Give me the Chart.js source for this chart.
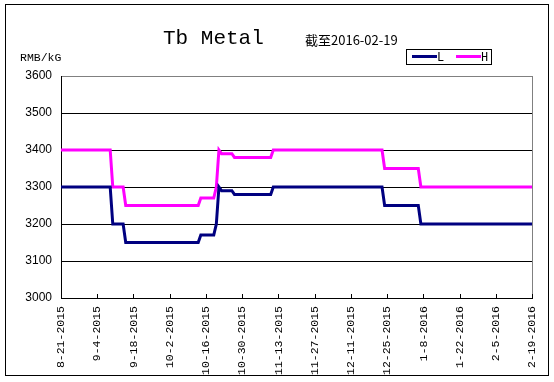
<!DOCTYPE html>
<html>
<head>
<meta charset="utf-8">
<script src="https://cdn.jsdelivr.net/npm/chart.js@4/dist/chart.umd.min.js"></script>
<style>
  html, body { margin: 0; padding: 0; background: #fff; }
  #wrap { width: 554px; height: 382px; }
</style>
</head>
<body>
<div id="wrap"><canvas id="tbChart" width="554" height="382"></canvas></div>
<script>
// tick labels, one every 14 days from 8-21-2015
const dateLabels = ['8-21-2015', '9-4-2015', '9-18-2015', '10-2-2015', '10-16-2015', '10-30-2015',
  '11-13-2015', '11-27-2015', '12-11-2015', '12-25-2015', '1-8-2016', '1-22-2016', '2-5-2016', '2-19-2016'];

// days since 8-21-2015 where the price changes (both sides of each step)
const dayOffsets = [0, 19, 20, 24, 25, 53, 54, 59, 60, 61, 62, 66, 67, 81, 82, 124, 125, 138, 139, 182];
const lowValues  = [3300, 3300, 3200, 3200, 3150, 3150, 3170, 3170, 3200, 3300, 3290, 3290, 3280, 3280, 3300, 3300, 3250, 3250, 3200, 3200];
const highValues = [3400, 3400, 3300, 3300, 3250, 3250, 3270, 3270, 3300, 3400, 3390, 3390, 3380, 3380, 3400, 3400, 3350, 3350, 3300, 3300];

const yTicks = [3000, 3100, 3200, 3300, 3400, 3500, 3600];

const lowColor = '#000080';
const highColor = '#ff00ff';

const decorations = {
  id: 'decorations',
  beforeDraw(chart) {
    const ctx = chart.ctx;
    ctx.save();
    ctx.fillStyle = '#fff';
    ctx.fillRect(0, 0, chart.width, chart.height);
    ctx.restore();
  },
  afterDraw(chart) {
    const ctx = chart.ctx;
    const area = chart.chartArea;
    const xScale = chart.scales.x;
    ctx.save();

    // right border of the plot area
    ctx.strokeStyle = '#808080';
    ctx.lineWidth = 1;
    ctx.beginPath();
    ctx.moveTo(Math.round(area.right) + 0.5, area.top);
    ctx.lineTo(Math.round(area.right) + 0.5, area.bottom);
    ctx.stroke();

    // small ticks pointing up from the x axis
    ctx.strokeStyle = '#000';
    ctx.beginPath();
    dateLabels.forEach((_, i) => {
      const x = Math.round(xScale.getPixelForValue(i * 14)) + 0.5;
      ctx.moveTo(x, area.bottom);
      ctx.lineTo(x, area.bottom - 4);
    });
    ctx.stroke();

    // outer frame
    ctx.strokeRect(5.5, 4.5, 543, 371);

    // title and notes
    ctx.fillStyle = '#000';
    ctx.textBaseline = 'alphabetic';
    ctx.textAlign = 'left';
    ctx.font = '21px "Liberation Mono"';
    ctx.fillText('Tb Metal', 163, 44);
    ctx.font = '13px "Noto Sans CJK SC"';
    ctx.fillText('截至2016-02-19', 305, 45);
    ctx.font = '11.5px "Liberation Mono"';
    ctx.fillText('RMB/kG', 20, 61);

    // legend
    ctx.lineWidth = 1;
    ctx.strokeRect(406.5, 49.5, 85, 15);
    ctx.lineWidth = 3;
    ctx.strokeStyle = lowColor;
    ctx.beginPath();
    ctx.moveTo(412, 56.5);
    ctx.lineTo(437, 56.5);
    ctx.stroke();
    ctx.strokeStyle = highColor;
    ctx.beginPath();
    ctx.moveTo(456, 56.5);
    ctx.lineTo(481, 56.5);
    ctx.stroke();
    ctx.font = '12px "Liberation Mono"';
    ctx.fillText('L', 437, 61);
    ctx.fillText('H', 481, 61);

    ctx.restore();
  }
};

new Chart(document.getElementById('tbChart'), {
  type: 'line',
  data: {
    datasets: [
      {
        label: 'L',
        data: dayOffsets.map((d, i) => ({ x: d, y: lowValues[i] })),
        borderColor: lowColor,
        borderWidth: 3,
        pointRadius: 0,
        tension: 0
      },
      {
        label: 'H',
        data: dayOffsets.map((d, i) => ({ x: d, y: highValues[i] })),
        borderColor: highColor,
        borderWidth: 3,
        pointRadius: 0,
        tension: 0
      }
    ]
  },
  options: {
    responsive: false,
    animation: false,
    devicePixelRatio: 1,
    layout: {
      padding: { top: 76, right: 20, bottom: 0, left: 0 }
    },
    plugins: {
      legend: { display: false },
      title: { display: false },
      tooltip: { enabled: false }
    },
    scales: {
      x: {
        type: 'linear',
        min: 0,
        max: (dateLabels.length - 1) * 14,
        afterBuildTicks: scale => {
          scale.ticks = dateLabels.map((_, i) => ({ value: i * 14 }));
        },
        ticks: {
          autoSkip: false,
          minRotation: 90,
          maxRotation: 90,
          padding: 8,
          color: '#000',
          font: { family: 'Liberation Mono', size: 11.5 },
          callback: v => dateLabels[Math.round(v / 14)]
        },
        grid: { display: false, drawTicks: false },
        border: { color: '#000', width: 1 },
        afterFit: scale => { scale.height = 84; }
      },
      y: {
        min: yTicks[0],
        max: yTicks[yTicks.length - 1],
        afterBuildTicks: scale => {
          scale.ticks = yTicks.map(v => ({ value: v }));
        },
        ticks: {
          padding: 9,
          color: '#000',
          font: { family: 'Liberation Sans', size: 12 },
          callback: v => String(v)
        },
        grid: {
          color: c => (c.tick && c.tick.value === 3600 ? '#808080' : '#000'),
          lineWidth: 1,
          drawTicks: false
        },
        border: { color: '#000', width: 1 },
        afterFit: scale => { scale.width = 61; }
      }
    }
  },
  plugins: [decorations]
});
</script>
</body>
</html>
